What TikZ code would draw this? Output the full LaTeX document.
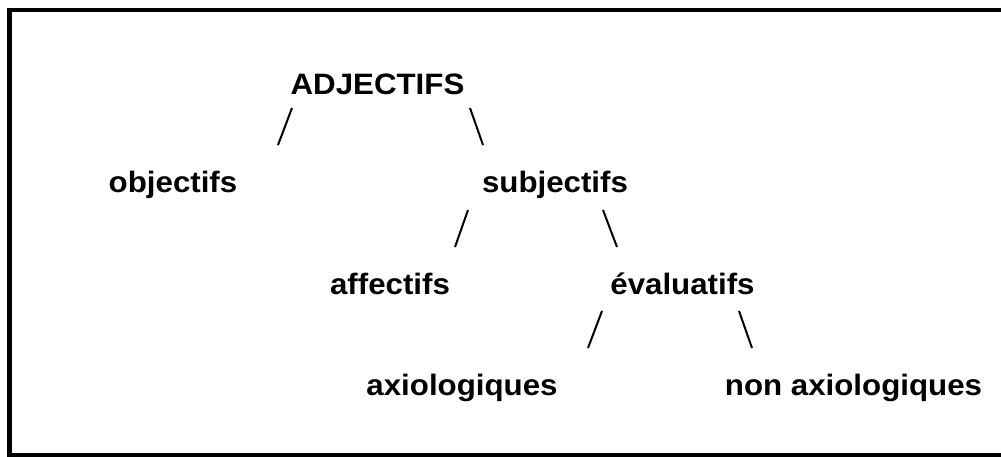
\documentclass[tikz,border=0pt]{standalone}
\usepackage{fontspec}
\setmainfont{Liberation Sans}[FakeStretch=1.06]
\begin{document}
\begin{tikzpicture}[x=1pt,y=-1pt,
  term/.style={anchor=base,inner sep=0pt,font=\fontsize{29.5}{35}\selectfont\bfseries},
  branch/.style={line width=2pt},
  frame/.style={line width=4.5pt}]
\useasboundingbox (0,0) rectangle (1001,457);
\begin{scope}
\clip (0,0) rectangle (1001,457);
\draw[frame] (1010,10) -- (9.5,10) -- (9.5,455) -- (1010,455);
\end{scope}
\node[term] (adj) at (377.5,95) {ADJECTIFS};
\node[term] (obj) at (173,193) {objectifs};
\node[term] (subj) at (555,193) {subjectifs};
\node[term] (aff) at (390,294) {affectifs};
\node[term] (eval) at (682.5,294) {évaluatifs};
\node[term] (axio) at (462,395) {axiologiques};
\node[term] (nonaxio) at (853.5,395) {non axiologiques};
\coordinate (s1a) at (292,108); \coordinate (s1b) at (278,145);
\coordinate (s2a) at (470,108); \coordinate (s2b) at (483,145);
\coordinate (s3a) at (468,210); \coordinate (s3b) at (455,247);
\coordinate (s4a) at (603,210); \coordinate (s4b) at (617,247);
\coordinate (s5a) at (602,311); \coordinate (s5b) at (588,348);
\coordinate (s6a) at (739,311); \coordinate (s6b) at (752,348);
\draw[branch] (s1a) -- (s1b);
\draw[branch] (s2a) -- (s2b);
\draw[branch] (s3a) -- (s3b);
\draw[branch] (s4a) -- (s4b);
\draw[branch] (s5a) -- (s5b);
\draw[branch] (s6a) -- (s6b);
\end{tikzpicture}
\end{document}
